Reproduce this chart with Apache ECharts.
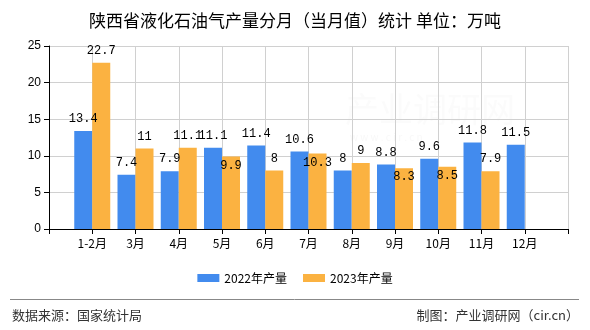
<!DOCTYPE html>
<html>
<head>
<meta charset="utf-8">
<script src="https://cdn.jsdelivr.net/npm/echarts@6/dist/echarts.min.js"></script>
<style>
  html, body { margin: 0; padding: 0; background: #fff; }
  #chart { width: 590px; height: 330px; }
</style>
</head>
<body>
<div id="chart"></div>
<script>
// Monthly LPG output, Shaanxi (万吨)
const categories = ['1-2月', '3月', '4月', '5月', '6月', '7月', '8月', '9月', '10月', '11月', '12月'];
const output2022 = [13.4, 7.4, 7.9, 11.1, 11.4, 10.6, 8, 8.8, 9.6, 11.8, 11.5];
const output2023 = [22.7, 11, 11.1, 9.9, 8, 10.3, 9, 8.3, 8.5, 7.9];
const yTicks = [0, 5, 10, 15, 20, 25];
const seriesNames = ['2022年产量', '2023年产量'];

// Labels that sit just inside the top of their bar instead of above it
const insideLabelIdx2023 = [3, 5, 7, 8];

const LABEL_FONT = 'Liberation Mono, DejaVu Sans Mono, monospace';
const CJK = '"Noto Sans CJK SC", "Liberation Sans", sans-serif';

// The category axis is padded by one empty slot at each end so the
// groups sit on the grid lines.
const axisCats = [''].concat(categories, ['']);

function padded(values) {
  const out = [null];
  for (let i = 0; i < categories.length; i++) {
    out.push(i < values.length ? values[i] : null);
  }
  out.push(null);
  return out;
}

function withLabels(values, insideIdx) {
  return padded(values).map((v, i) => {
    if (v === null) return null;
    if (insideIdx.indexOf(i - 1) >= 0) {
      return { value: v, label: { position: 'insideTop', distance: 3 } };
    }
    return v;
  });
}

const chart = echarts.init(document.getElementById('chart'), null, { renderer: 'canvas' });

const labelStyle = {
  show: true,
  position: 'top',
  distance: 6,
  color: '#000',
  fontFamily: LABEL_FONT,
  fontSize: 12
};

chart.setOption({
  animation: false,
  backgroundColor: '#fff',
  title: {
    text: '陕西省液化石油气产量分月（当月值）统计 单位：万吨',
    left: 'center',
    top: 7,
    textStyle: { fontFamily: CJK, fontSize: 17, fontWeight: 'normal', color: '#000' }
  },
  legend: {
    data: seriesNames,
    left: 'center',
    top: 267,
    itemWidth: 22,
    itemHeight: 8,
    itemGap: 16,
    icon: 'rect',
    textStyle: { fontFamily: CJK, fontSize: 12, color: '#000' }
  },
  grid: { left: 49, right: 22, top: 46, bottom: 101, containLabel: false },
  xAxis: {
    type: 'category',
    data: axisCats,
    boundaryGap: false,
    axisLine: { lineStyle: { color: '#000', width: 1 } },
    axisTick: { show: true, length: 5, lineStyle: { color: '#000' } },
    axisLabel: { interval: 0, margin: 8, color: '#000', fontFamily: CJK, fontSize: 12 },
    splitLine: { show: true, lineStyle: { color: '#d0d0d0', width: 1 } }
  },
  yAxis: {
    type: 'value',
    min: yTicks[0],
    max: yTicks[yTicks.length - 1],
    interval: yTicks[1] - yTicks[0],
    axisLine: { show: true, lineStyle: { color: '#000', width: 1 } },
    axisTick: { show: true, length: 5, lineStyle: { color: '#000' } },
    axisLabel: { margin: 8, color: '#000', fontFamily: 'Liberation Sans, Arial, sans-serif', fontSize: 12 },
    splitLine: { show: true, lineStyle: { color: '#d0d0d0', width: 1 } }
  },
  series: [
    {
      name: seriesNames[0],
      type: 'bar',
      data: withLabels(output2022, []),
      barWidth: 18,
      barGap: '0%',
      itemStyle: { color: '#428BEE' },
      label: labelStyle
    },
    {
      name: seriesNames[1],
      type: 'bar',
      data: withLabels(output2023, insideLabelIdx2023),
      barWidth: 18,
      barGap: '0%',
      itemStyle: { color: '#FBB241' },
      label: labelStyle
    }
  ],
  graphic: [
    {
      type: 'text',
      left: 345, top: 92, silent: true, z: -1,
      style: { text: '产业调研网', fontFamily: CJK, fontSize: 34, fill: 'rgba(200,200,200,0.08)' }
    },
    {
      type: 'text',
      left: 350, top: 132, silent: true, z: -1,
      style: { text: 'w w w . c i r . c n', fontFamily: CJK, fontSize: 10, fill: 'rgba(200,200,200,0.12)' }
    },
    {
      type: 'line',
      shape: { x1: 10, y1: 299.5, x2: 579, y2: 299.5 },
      style: { stroke: '#888', lineWidth: 1 }
    },
    {
      type: 'text',
      left: 12, top: 309,
      style: { text: '数据来源：国家统计局', fontFamily: CJK, fontSize: 13, fill: '#333' }
    },
    {
      type: 'text',
      right: 11, top: 309,
      style: { text: '制图：产业调研网（cir.cn）', fontFamily: CJK, fontSize: 13, fill: '#333' }
    }
  ]
});
</script>
</body>
</html>
